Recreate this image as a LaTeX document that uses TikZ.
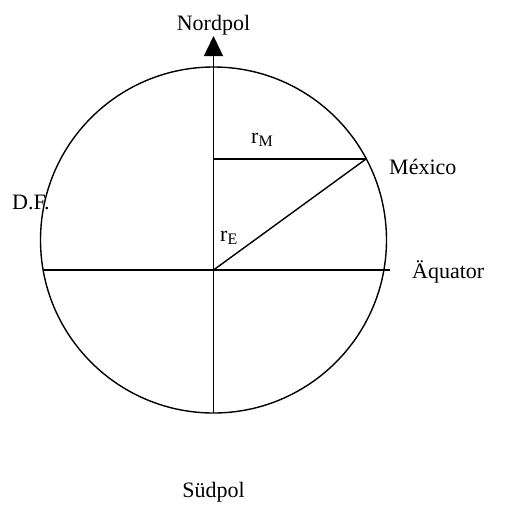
\documentclass[tikz,border=0pt]{standalone}
\usepackage{fontspec}
\setmainfont{Liberation Serif}
\usetikzlibrary{arrows.meta}
\newcommand{\mysub}[1]{\raisebox{-0.3ex}{\fontsize{16}{16}\selectfont #1}}
\begin{document}
\begin{tikzpicture}[x=1pt,y=-1pt,
  lbl/.style={inner sep=0pt,font=\fontsize{22}{26}\selectfont},
  ln/.style={line width=1.4pt,black}]
\useasboundingbox (0,0) rectangle (520,504);
\coordinate (O) at (213.5,240);
\coordinate (E) at (213.5,270);
\coordinate (NT) at (213.5,36);
\coordinate (ST) at (213.5,413);
\coordinate (EL) at (43,270);
\coordinate (ER) at (390,270);
\coordinate (MA) at (213.5,159);
\coordinate (MX) at (366,159);
\draw[ln] (O) circle[radius=173];
\draw[ln,-{Triangle[length=20pt,width=19pt]}] (ST) -- (NT);
\draw[ln] (EL) -- (ER);
\draw[ln] (MA) -- (MX);
\draw[ln] (E) -- (MX);
\node[lbl,anchor=base] (nord) at (213.5,30) {Nordpol};
\node[lbl,anchor=base] (sued) at (213.5,497) {Südpol};
\node[lbl,anchor=base west] (rm) at (251,143) {r\mysub{M}};
\node[lbl,anchor=base west] (mex) at (389,174) {México};
\node[lbl,anchor=base west] (df) at (12,209) {D.F.};
\node[lbl,anchor=base west] (re) at (220,241) {r\mysub{E}};
\node[lbl,anchor=base west] (aeq) at (412,278) {Äquator};
\end{tikzpicture}
\end{document}
